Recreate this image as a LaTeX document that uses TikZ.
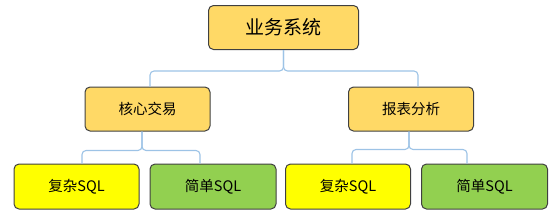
\documentclass[tikz,border=0pt]{standalone}
\usepackage{fontspec}
\setmainfont{Noto Sans CJK SC}
\definecolor{orangebox}{HTML}{FFD966}
\definecolor{yellowbox}{HTML}{FFFF00}
\definecolor{greenbox}{HTML}{92D050}
\definecolor{edgegray}{HTML}{404040}
\definecolor{linkblue}{HTML}{9DC3E6}
\tikzset{
  box/.style={draw=edgegray, line width=1pt, rounded corners=5pt, inner sep=0pt, text=black},
  topbox/.style={box, fill=orangebox, minimum width=150pt, minimum height=44pt, font=\fontsize{19}{22}\selectfont},
  midbox/.style={box, fill=orangebox, minimum width=125pt, minimum height=44pt, font=\fontsize{14.5}{17}\selectfont},
  ybox/.style={box, fill=yellowbox, minimum width=125pt, minimum height=45pt, font=\fontsize{14.5}{17}\selectfont},
  gbox/.style={box, fill=greenbox, minimum width=126pt, minimum height=45pt, font=\fontsize{14.5}{17}\selectfont},
  link/.style={draw=linkblue, line width=1.1pt, rounded corners=4pt}
}
\begin{document}
\begin{tikzpicture}[x=1pt,y=-1pt]
\useasboundingbox (0,0) rectangle (554,215);
\node[topbox] (top) at (283.5,27.5) {业务系统};
\node[midbox] (m1) at (147.5,109) {核心交易};
\node[midbox] (m2) at (411,109) {报表分析};
\node[ybox] (b1) at (76.5,186.5) {复杂SQL};
\node[gbox] (b2) at (213,186.5) {简单SQL};
\node[ybox] (b3) at (348,186.5) {复杂SQL};
\node[gbox] (b4) at (484.5,186.5) {简单SQL};
% top connectors
\draw[link] (top.south) -- ++(0,21) -| ([xshift=2.5pt]m1.north);
\draw[link] (top.south) -- ++(0,21) -| ([xshift=7pt]m2.north);
% left group
\draw[link] ([xshift=-5.5pt]m1.south) -- ++(0,19) -| ([xshift=5.5pt]b1.north);
\draw[link] ([xshift=-5.5pt]m1.south) -- ++(0,19) -| ([xshift=-13pt]b2.north);
% right group
\draw[link] ([xshift=-2pt]m2.south) -- ++(0,18) -| ([xshift=4pt]b3.north);
\draw[link] ([xshift=-2pt]m2.south) -- ++(0,18) -| ([xshift=-17.5pt]b4.north);
\end{tikzpicture}
\end{document}
